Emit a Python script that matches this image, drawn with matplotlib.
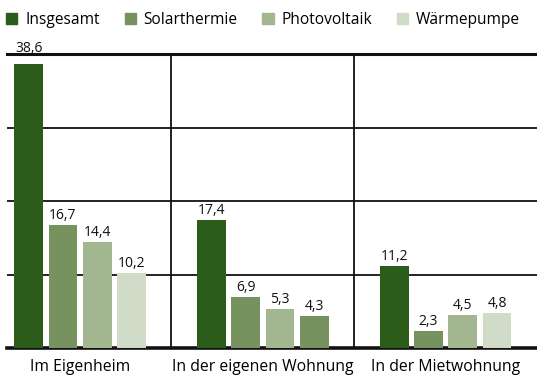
import matplotlib.pyplot as plt
from matplotlib.patches import Patch
import numpy as np

plt.rcParams['font.family'] = ['Open Sans', 'DejaVu Sans']

# data
categories = ['Im Eigenheim', 'In der eigenen Wohnung', 'In der Mietwohnung']
series = ['Insgesamt', 'Solarthermie', 'Photovoltaik', 'Wärmepumpe']
insgesamt = [38.6, 17.4, 11.2]
solarthermie = [16.7, 6.9, 2.3]
photovoltaik = [14.4, 5.3, 4.5]
waermepumpe = [10.2, 4.3, 4.8]

colors = ['#2b5c1a', '#76935f', '#a2b78f', '#d0dcc8']
# the heat pump bar in the second group is drawn in the solar thermal colour
waerme_colors = [colors[3], colors[1], colors[3]]

fig = plt.figure(figsize=(5.37, 3.76), dpi=100)
ax = fig.add_axes([0.013, 0.0745, 0.987, 0.7815])

x = np.arange(len(categories))
pitch = 0.1875
width = 0.158
values = [insgesamt, solarthermie, photovoltaik, waermepumpe]
for i, vals in enumerate(values):
    c = waerme_colors if i == 3 else colors[i]
    bars = ax.bar(x + (i - 1.5) * pitch, vals, width, color=c, zorder=3)
    for b, v in zip(bars, vals):
        # labels of bars reaching the top line are lifted above it
        pad = 6 if v > 36 else 1.5
        ax.annotate(f'{v:.1f}'.replace('.', ','),
                    (b.get_x() + b.get_width() / 2, v),
                    xytext=(0, pad), textcoords='offset points',
                    ha='center', va='bottom', fontsize=10,
                    color='#111111', annotation_clip=False)

ax.set_xlim(-0.4, 2.5)
ax.set_ylim(0, 40)

# horizontal grid and group separators
for y in [10, 20, 30]:
    ax.axhline(y, color='#111111', lw=1.3, zorder=1)
for sep in [0.5, 1.5]:
    ax.axvline(sep, color='#111111', lw=1.3, zorder=1)

for s in ['left', 'right']:
    ax.spines[s].set_visible(False)
ax.spines['top'].set_linewidth(2.2)
ax.spines['bottom'].set_linewidth(2.6)
ax.spines['top'].set_color('#111111')
ax.spines['bottom'].set_color('#111111')

ax.set_yticks([])
ax.set_xticks(x)
ax.set_xticklabels(categories, fontsize=11.3)
ax.tick_params(axis='x', length=0, pad=8)

handles = [Patch(color=c, label=s) for c, s in zip(colors, series)]
fig.legend(handles=handles, loc='upper left', bbox_to_anchor=(0.0, 0.984),
           ncol=4, frameon=False, fontsize=11.2, handlelength=0.71,
           handleheight=0.71, handletextpad=0.51, columnspacing=1.6,
           borderaxespad=0.3, borderpad=0.1)

fig.savefig('out.png', dpi=100)
